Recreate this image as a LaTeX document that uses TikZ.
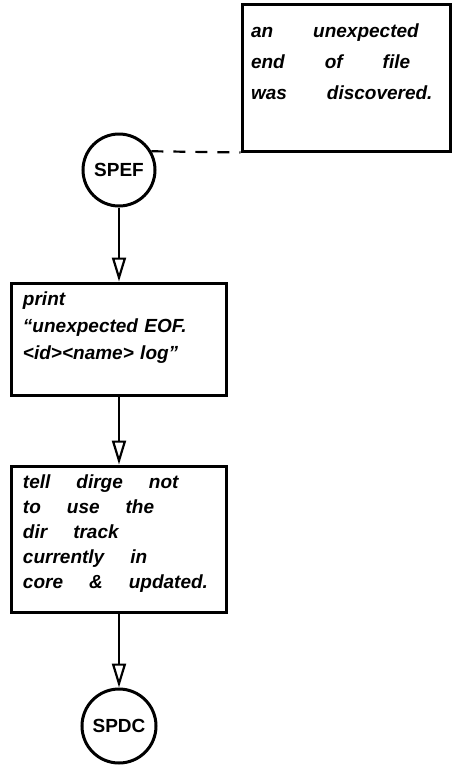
\documentclass[tikz,border=0pt]{standalone}
\usepackage{fontspec}
\setmainfont{Liberation Sans}
\usetikzlibrary{positioning,arrows.meta}

\newcommand\handfont{\bfseries\itshape\fontsize{19}{27}\selectfont}
\newcommand\widegaps[1]{\spaceskip=#1\relax}

\begin{document}
\begin{tikzpicture}[
    x=1pt, y=-1pt,
    termnode/.style={circle, draw, line width=3pt, minimum size=72pt, inner sep=0pt, font=\bfseries\fontsize{19}{20}\selectfont},
    procbox/.style={rectangle, draw, line width=3pt, text width=192pt, inner xsep=11.5pt, align=left, font=\handfont},
    flow/.style={line width=2.2pt, -{Triangle[open, length=24pt, width=14pt, line width=2.2pt]}}
]
    \useasboundingbox (0,0) rectangle (453,769);

    % Nodes
    \node[termnode] (spef) at (119,170) {SPEF};
    \node[procbox, minimum height=112pt, below=74pt of spef] (print) {print\\``unexpected EOF.\\<id><name> log''\\ \mbox{}};
    \node[procbox, minimum height=146pt, font=\bfseries\itshape\fontsize{19}{25}\selectfont, below=68pt of print] (tell)
        {\widegaps{26pt}tell dirge not\\to use the\\dir track\\currently in\\core \& updated.\\[-10pt]\mbox{}};
    \node[termnode, minimum size=74pt, below=74pt of tell] (spdc) {SPDC};
    \node[rectangle, draw, line width=3pt, text width=190pt, inner xsep=9pt, minimum height=147pt, align=left,
          font=\bfseries\itshape\fontsize{19}{31}\selectfont] (note) at (346,77.5)
          {\widegaps{40pt}an unexpected\\end of file\\was discovered.\\ \mbox{}};

    % Edges
    \draw[line width=2.2pt, dash pattern=on 12pt off 10pt] (spef.30) -- (note.south west);
    \draw[flow] (spef) -- (print);
    \draw[flow] (print) -- (tell);
    \draw[flow] (tell) -- (spdc);

\end{tikzpicture}
\end{document}
